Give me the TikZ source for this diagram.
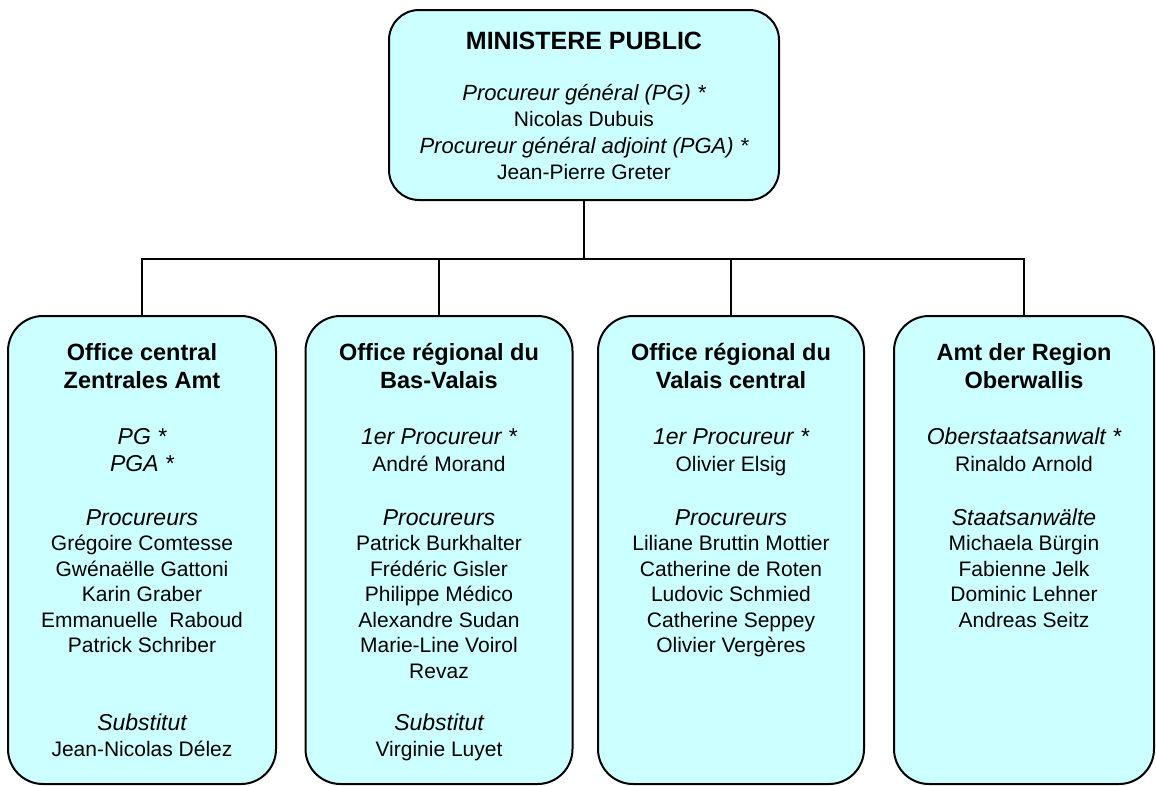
\documentclass[tikz,border=0pt]{standalone}
\usepackage{fontspec}
\setmainfont{Liberation Sans}
\usetikzlibrary{positioning}
\definecolor{boxfill}{HTML}{CCFFFF}
\newcommand{\Head}[1]{{\fontsize{23.5}{25.5}\selectfont\bfseries #1}}
\newcommand{\Role}[1]{{\fontsize{23}{25.5}\selectfont\itshape #1}}

\begin{document}
\begin{tikzpicture}[x=1pt, y=-1pt,
  unit/.style = {draw, line width=2pt, fill=boxfill, inner sep=0pt,
                 rounded corners=35pt},
   txt/.style = {align=center, inner sep=0pt,
                 font=\fontsize{21}{25.5}\selectfont},
  link/.style = {draw, line width=2.5pt, line cap=rect}
                    ]
\useasboundingbox (0,0) rectangle (1156,785);

% boxes
\node[unit, rounded corners=30pt, minimum width=390pt, minimum height=190pt] (mp) at (584,105) {};
\node[unit, minimum width=268pt, minimum height=468pt] (oc) at (142,550) {};
\node[unit, minimum width=267pt, minimum height=468pt] (bv) at (439,550) {};
\node[unit, minimum width=266pt, minimum height=468pt] (vc) at (731,550) {};
\node[unit, minimum width=260pt, minimum height=468pt] (ow) at (1024,550) {};

% texts
\node[txt, below=23pt of mp.north] (mp-t)
{{\fontsize{25}{25.5}\selectfont\bfseries MINISTERE PUBLIC}\\[25.5pt]
 {\fontsize{22}{25.5}\selectfont\itshape Procureur général (PG) *}\\[0.5pt]
 Nicolas Dubuis\\[1pt]
 {\fontsize{22}{25.5}\selectfont\itshape Procureur général adjoint (PGA) *}\\[1pt]
 Jean-Pierre Greter};

\node[txt, below=28pt of oc.north] (oc-t)
{\Head{Office central}\\[2.5pt] \Head{Zentrales Amt}\\[30.5pt]
 \Role{PG *}\\[1.5pt] \Role{PGA *}\\[28.5pt]
 \Role{Procureurs}\\
 Grégoire Comtesse\\ Gwénaëlle Gattoni\\ Karin Graber\\
 Emmanuelle\ \ Raboud\\ Patrick Schriber\\[52.5pt]
 \Role{Substitut}\\ Jean-Nicolas Délez};

\node[txt, below=28pt of bv.north] (bv-t)
{\Head{Office régional du}\\[2.5pt] \Head{Bas-Valais}\\[30.5pt]
 \Role{1er Procureur *}\\[1.5pt] André Morand\\[28.5pt]
 \Role{Procureurs}\\
 Patrick Burkhalter\\ Frédéric Gisler\\ Philippe Médico\\
 Alexandre Sudan\\ Marie-Line Voirol\\ Revaz\\[27pt]
 \Role{Substitut}\\ Virginie Luyet};

\node[txt, below=28pt of vc.north] (vc-t)
{\Head{Office régional du}\\[2.5pt] \Head{Valais central}\\[30.5pt]
 \Role{1er Procureur *}\\[1.5pt] Olivier Elsig\\[28.5pt]
 \Role{Procureurs}\\
 Liliane Bruttin Mottier\\ Catherine de Roten\\ Ludovic Schmied\\
 Catherine Seppey\\ Olivier Vergères};

\node[txt, below=28pt of ow.north] (ow-t)
{\Head{Amt der Region}\\[2.5pt] \Head{Oberwallis}\\[30.5pt]
 \Role{Oberstaatsanwalt *}\\[1.5pt] Rinaldo Arnold\\[28.5pt]
 \Role{Staatsanwälte}\\
 Michaela Bürgin\\ Fabienne Jelk\\ Dominic Lehner\\ Andreas Seitz};

% connectors
\coordinate (bus) at (0,259);
\draw[link] (mp.south) -- (mp.south |- bus);
\draw[link] (oc.north) |- (ow.north |- bus) -- (ow.north);
\draw[link] (bv.north) -- (bv.north |- bus);
\draw[link] (vc.north) -- (vc.north |- bus);
\end{tikzpicture}
\end{document}
